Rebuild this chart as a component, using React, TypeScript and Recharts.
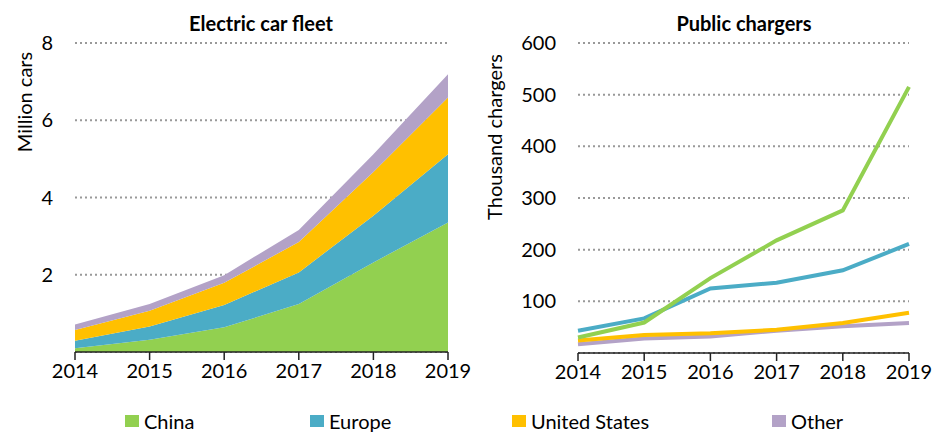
import {
  Area,
  AreaChart,
  CartesianGrid,
  Label,
  Line,
  LineChart,
  XAxis,
  YAxis,
} from "recharts";

const years = ["2014", "2015", "2016", "2017", "2018", "2019"];

// electric car fleet, million cars
const fleetChina = [0.1, 0.32, 0.64, 1.24, 2.32, 3.35];
const fleetEurope = [0.19, 0.34, 0.58, 0.82, 1.21, 1.77];
const fleetUS = [0.28, 0.41, 0.57, 0.79, 1.13, 1.47];
const fleetOther = [0.14, 0.17, 0.2, 0.31, 0.46, 0.6];

// public chargers, thousand
const chargersChina = [30, 59, 145, 218, 276, 515];
const chargersEurope = [43, 67, 125, 136, 160, 211];
const chargersUS = [24, 35, 38, 45, 58, 78];
const chargersOther = [17, 28, 32, 43, 52, 58];

const fleetTicks = [2, 4, 6, 8];
const chargerTicks = [100, 200, 300, 400, 500, 600];

const seriesNames = ["China", "Europe", "United States", "Other"];
const seriesKeys = ["china", "europe", "us", "other"];
const seriesColors = ["#92D050", "#4BACC6", "#FFC000", "#B3A2C7"];

const fleetData = years.map((year, i) => ({
  year,
  china: fleetChina[i],
  europe: fleetEurope[i],
  us: fleetUS[i],
  other: fleetOther[i],
}));

const chargerData = years.map((year, i) => ({
  year,
  china: chargersChina[i],
  europe: chargersEurope[i],
  us: chargersUS[i],
  other: chargersOther[i],
}));

const FONT = "Lato, 'Open Sans', sans-serif";
const tickStyle = { fill: "#000", fontSize: 20, fontFamily: FONT };

const AxisTitle = ({ text, x, y }) => (
  <text
    x={x}
    y={y}
    transform={`rotate(-90, ${x}, ${y})`}
    textAnchor="middle"
    dominantBaseline="central"
    fontSize={20}
    fontFamily={FONT}
    fill="#000"
  >
    {text}
  </text>
);

const ChartTitle = ({ text, left }) => (
  <div
    style={{
      position: "absolute",
      left: left - 150,
      top: 10,
      width: 300,
      textAlign: "center",
      fontWeight: "bold",
      fontSize: 20,
      fontFamily: FONT,
      lineHeight: "26px",
    }}
  >
    {text}
  </div>
);

const xAxisProps = {
  dataKey: "year",
  tick: tickStyle,
  tickSize: 8,
  tickMargin: 4,
  height: 30,
  interval: 0 as const,
  axisLine: { stroke: "#222", strokeWidth: 1.5 },
  tickLine: { stroke: "#222", strokeWidth: 1.5 },
};

export default function App() {
  return (
    <div
      style={{
        position: "absolute",
        left: 0,
        top: 0,
        width: 948,
        height: 434,
        background: "#fff",
        fontFamily: FONT,
      }}
    >
      <ChartTitle text="Electric car fleet" left={261} />
      <ChartTitle text="Public chargers" left={744} />

      <div style={{ position: "absolute", left: 0, top: 0 }}>
        <AreaChart
          width={480}
          height={400}
          data={fleetData}
          margin={{ top: 43, right: 32, left: 15, bottom: 18 }}
          style={{ overflow: "visible" }}
        >
          <CartesianGrid
            vertical={false}
            stroke="#999"
            strokeWidth={2}
            strokeDasharray="2 3"
          />
          <XAxis {...xAxisProps} />
          <YAxis
            domain={[0, 8]}
            ticks={fleetTicks}
            width={60}
            axisLine={false}
            tickLine={false}
            tickSize={0}
            tickMargin={22}
            tick={tickStyle}
          >
            <Label content={() => <AxisTitle text="Million cars" x={24} y={102} />} />
          </YAxis>
          {seriesKeys.map((key, i) => (
            <Area
              key={key}
              type="linear"
              dataKey={key}
              stackId="fleet"
              fill={seriesColors[i]}
              fillOpacity={1}
              stroke="none"
              isAnimationActive={false}
            />
          ))}
        </AreaChart>
      </div>

      <div style={{ position: "absolute", left: 470, top: 0 }}>
        <LineChart
          width={478}
          height={400}
          data={chargerData}
          margin={{ top: 43, right: 39, left: 48, bottom: 17 }}
          style={{ overflow: "visible" }}
        >
          <CartesianGrid
            vertical={false}
            stroke="#999"
            strokeWidth={2}
            strokeDasharray="2 3"
          />
          <XAxis {...xAxisProps} />
          <YAxis
            domain={[0, 600]}
            ticks={chargerTicks}
            width={60}
            axisLine={false}
            tickLine={false}
            tickSize={0}
            tickMargin={22}
            tick={tickStyle}
          >
            <Label
              content={() => <AxisTitle text="Thousand chargers" x={24} y={137} />}
            />
          </YAxis>
          {[3, 2, 1, 0].map((i) => (
            <Line
              key={seriesKeys[i]}
              type="linear"
              dataKey={seriesKeys[i]}
              stroke={seriesColors[i]}
              strokeWidth={4}
              dot={false}
              isAnimationActive={false}
            />
          ))}
        </LineChart>
      </div>

      {seriesNames.map((name, i) => (
        <div
          key={name}
          style={{
            position: "absolute",
            left: [125, 310, 512, 772][i],
            top: 408,
            display: "flex",
            alignItems: "center",
            fontSize: 20,
            lineHeight: "26px",
          }}
        >
          <span
            style={{
              display: "inline-block",
              width: 14,
              height: 12,
              background: seriesColors[i],
              marginRight: 5,
            }}
          />
          {name}
        </div>
      ))}
    </div>
  );
}
